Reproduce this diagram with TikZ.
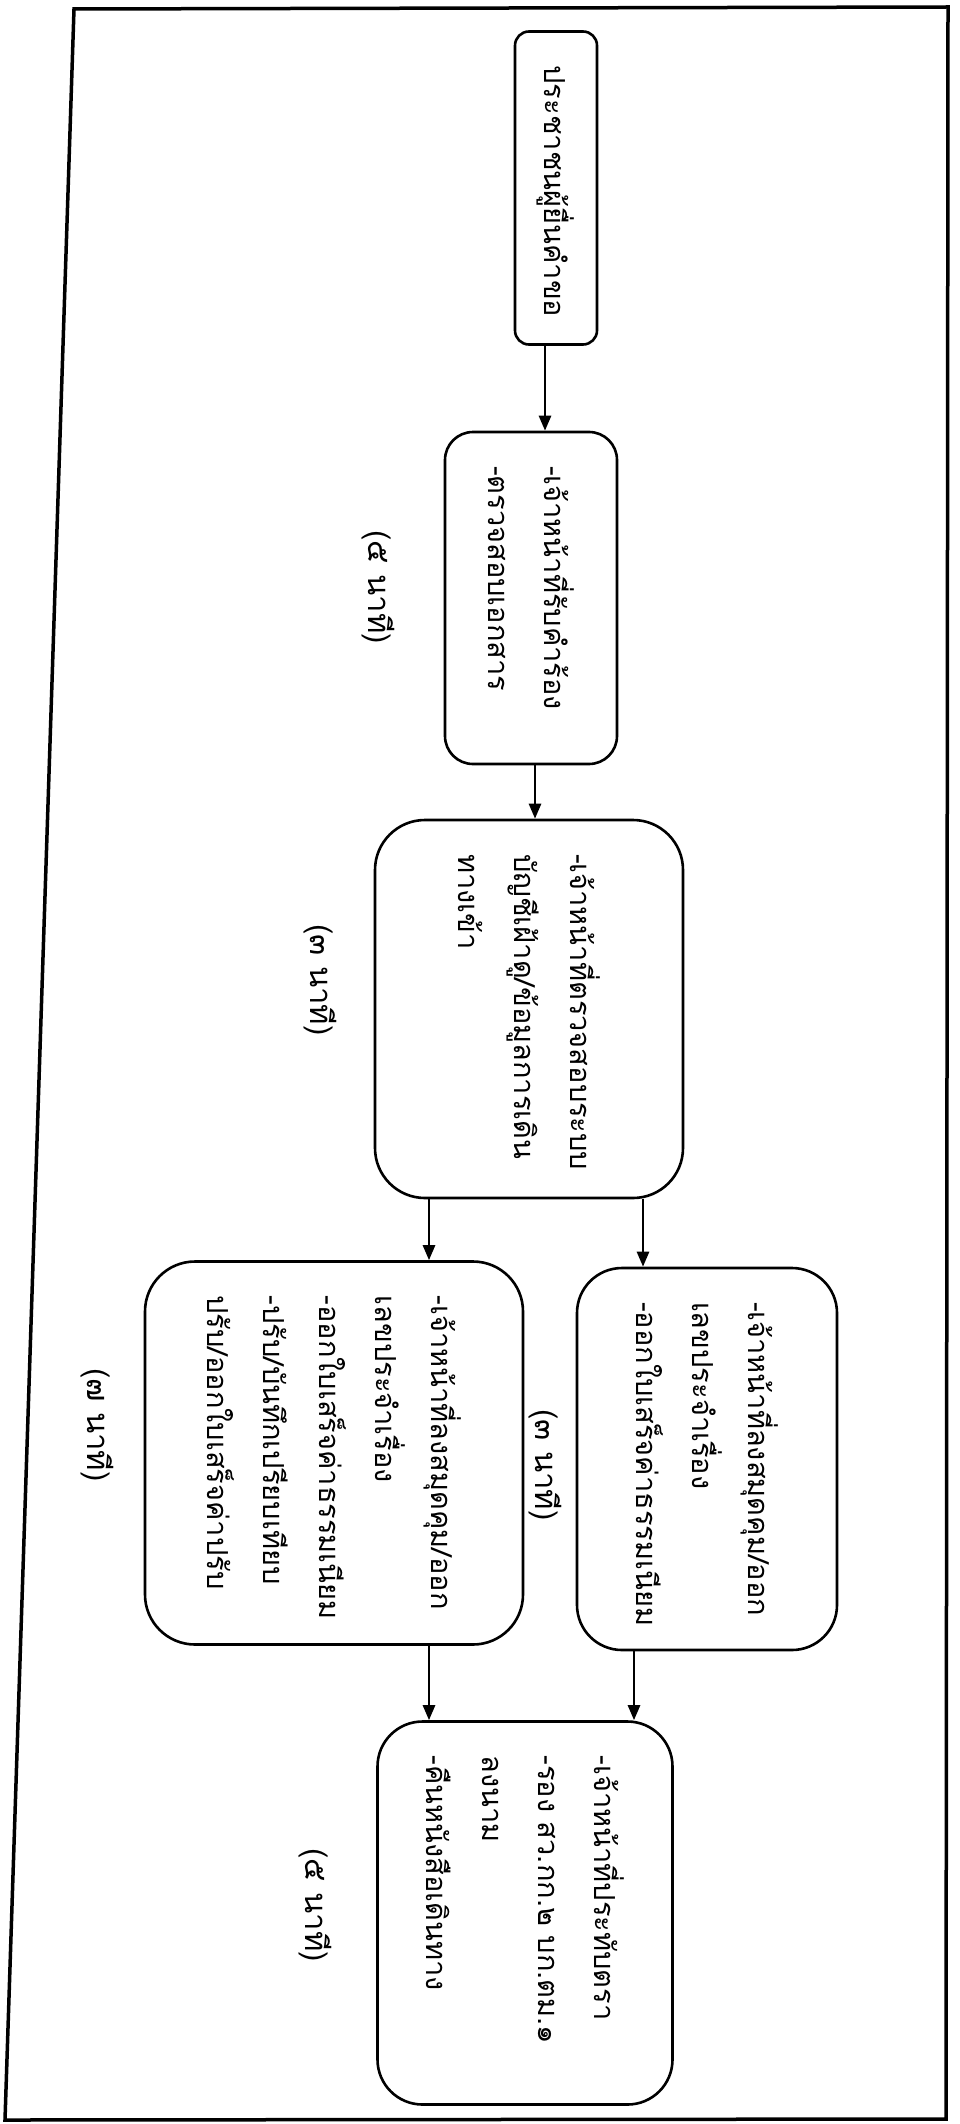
\documentclass[tikz,border=0pt]{standalone}
\usepackage{fontspec}
\newfontfamily\thaifont[Script=Thai]{Loma}
\newcommand\boxfont{\thaifont\fontsize{29}{56}\selectfont\exhyphenpenalty=10000 \hyphenpenalty=10000 \relax}
\newcommand\minutefont{\thaifont\fontsize{31}{56}\selectfont}
\usetikzlibrary{arrows.meta}

\begin{document}
\begin{tikzpicture}[x=1pt, y=-1pt,
    stepbox/.style={draw, line width=2.6pt, rotate=-90, align=left, inner xsep=34pt, inner ysep=0pt, font=\boxfont},
    timelabel/.style={rotate=-90, inner sep=0pt, font=\minutefont},
    flow/.style={line width=2.6pt, -{Triangle[length=15pt, width=12pt]}}]
    \useasboundingbox (0,0) rectangle (960,2124);
    \draw[line width=3.5pt] (74,9) -- (948,7) -- (946,2119) -- (5,2120) -- cycle;
    \node[stepbox, rounded corners=14pt, text width=245pt, minimum height=82pt] (applicant) at (556,188) {ประชาชนผู้ยื่นคำขอ};
    \node[stepbox, rounded corners=28pt, text width=264pt, minimum height=172pt] (receive) at (531,598) {-เจ้าหน้าที่รับคำร้อง\\-ตรวจสอบเอกสาร};
    \node[stepbox, rounded corners=50pt, text width=310pt, minimum height=308pt] (check) at (529,1009) {-เจ้าหน้าที่ตรวจสอบระบบ\\บัญชีเฝ้าดู/ข้อมูลการเดิน\\ทางเข้า};
    \node[stepbox, rounded corners=45pt, text width=314pt, minimum height=260pt] (feeonly) at (707,1459) {-เจ้าหน้าที่ลงสมุดคุม/ออก\\เลขประจำเรื่อง\\-ออกใบเสร็จค่าธรรมเนียม};
    \node[stepbox, rounded corners=50pt, text width=315pt, minimum height=378pt] (feefine) at (334,1453) {-เจ้าหน้าที่ลงสมุดคุม/ออก\\เลขประจำเรื่อง\\-ออกใบเสร็จค่าธรรมเนียม\\-ปรับ/บันทึกเปรียบเทียบ\\ปรับ/ออกใบเสร็จค่าปรับ};
    \node[stepbox, rounded corners=45pt, text width=315pt, minimum height=295pt] (stamp) at (525,1913) {-เจ้าหน้าที่ประทับตรา\\-รอง สว.กก.๒ บก.ตม.๑\\ลงนาม\\-คืนหนังสือเดินทาง};
    \node[timelabel] (t-receive) at (378,587) {(๕ นาที)};
    \node[timelabel] (t-check) at (320,980) {(๓ นาที)};
    \node[timelabel] (t-feeonly) at (545,1465) {(๓ นาที)};
    \node[timelabel] (t-feefine) at (97,1425) {(๗ นาที)};
    \node[timelabel] (t-stamp) at (315,1905) {(๕ นาที)};
    \coordinate (x1) at (545,0);
    \coordinate (x2) at (535,0);
    \coordinate (x3) at (429,0);
    \coordinate (x4) at (643,0);
    \coordinate (x5) at (634,0);
    \draw[flow] (applicant.east -| x1) -- (receive.west -| x1);
    \draw[flow] (receive.east -| x2) -- (check.west -| x2);
    \draw[flow] (check.east -| x3) -- (feefine.west -| x3);
    \draw[flow] (check.east -| x4) -- (feeonly.west -| x4);
    \draw[flow] (feefine.east -| x3) -- (stamp.west -| x3);
    \draw[flow] (feeonly.east -| x5) -- (stamp.west -| x5);
\end{tikzpicture}
\end{document}
